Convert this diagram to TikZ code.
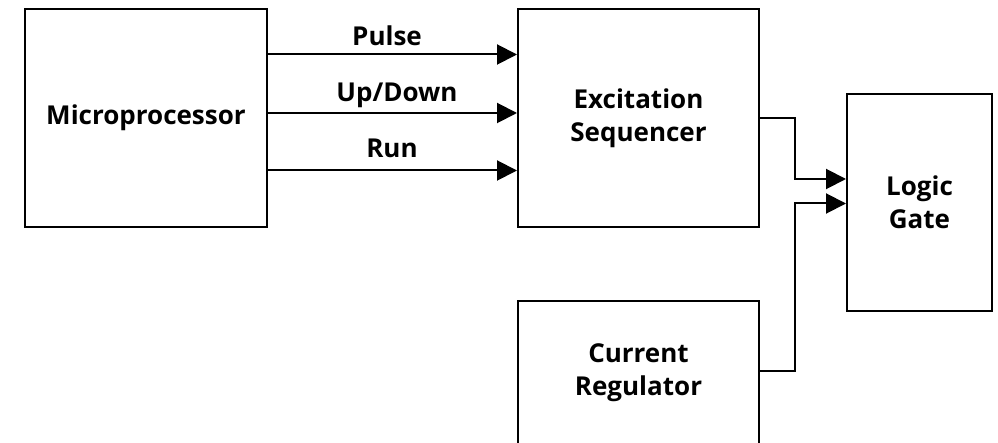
\documentclass[tikz,border=0pt]{standalone}
\usepackage{fontspec}
\setmainfont{Open Sans}
\usetikzlibrary{arrows.meta}
\begin{document}
\begin{tikzpicture}[x=1pt,y=-1pt,
  txt/.style={font=\bfseries\fontsize{26}{33}\selectfont},
  block/.style={draw, line width=2pt, align=center, inner sep=0pt, txt},
  sig/.style={line width=2pt, -{Triangle[length=20pt,width=20pt]}},
  lbl/.style={anchor=base, inner sep=0pt, txt}]
\useasboundingbox (0,0) rectangle (998,443);
\clip (0,0) rectangle (998,443);

% blocks
\node[block, minimum width=242pt, minimum height=218pt] (micro) at (146,118) {Microprocessor};
\node[block, minimum width=241pt, minimum height=218pt] (exc) at (638.5,118) {Excitation\\Sequencer};
\node[block, minimum width=145pt, minimum height=217pt] (logic) at (919.5,202.5) {Logic\\Gate};
\node[block, minimum width=241pt, minimum height=144pt] (reg) at (638.5,373) {Current\\Regulator};

% control lines from the microprocessor
\draw[sig] ([yshift=63.5pt]micro.east) -- ([yshift=63.5pt]exc.west);
\draw[sig] ([yshift=5pt]micro.east) -- ([yshift=5pt]exc.west);
\draw[sig] ([yshift=-52.5pt]micro.east) -- ([yshift=-52.5pt]exc.west);
\node[lbl] (pulse) at (387,46) {Pulse};
\node[lbl] (updown) at (397,102) {Up/Down};
\node[lbl] (run) at (392,158) {Run};

% inputs of the logic gate
\coordinate (in1) at ([yshift=23.5pt]logic.west);
\coordinate (in2) at ([yshift=-1pt]logic.west);
\coordinate (out2) at ([yshift=2pt]reg.east);
\coordinate (bus) at (795,0);
\draw[sig] (exc.east) -- (exc.east -| bus) -- (bus |- in1) -- (in1);
\draw[sig] (out2) -- (out2 -| bus) -- (bus |- in2) -- (in2);
\end{tikzpicture}
\end{document}
